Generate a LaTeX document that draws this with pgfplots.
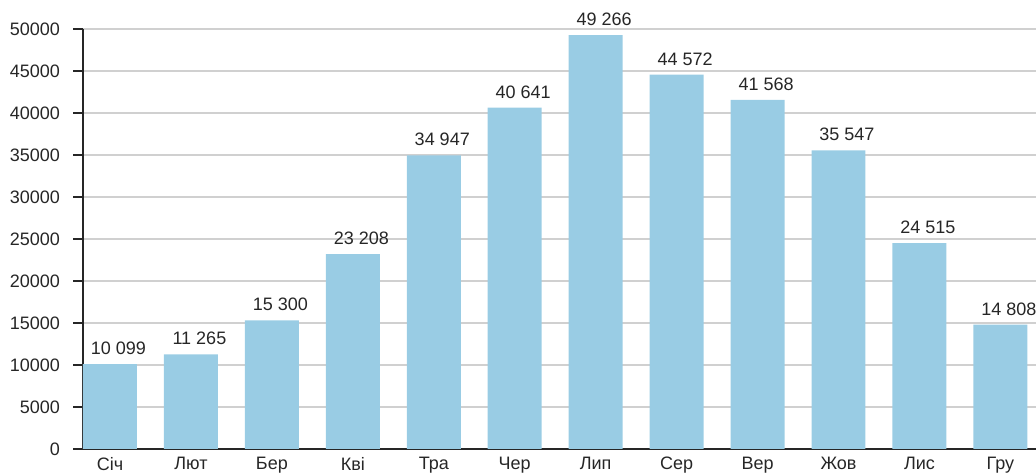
\documentclass[border=0pt]{standalone}
\usepackage{fontspec}
\setmainfont{Liberation Sans}
\usepackage{pgfplots}
\pgfplotsset{compat=1.18}
\definecolor{barblue}{RGB}{153,204,228}
\definecolor{gridgray}{RGB}{208,208,208}
\begin{document}
\begin{tikzpicture}
\begin{axis}[
  at={(41.5pt,12.5pt)}, anchor=south west,
  scale only axis, width=476.5pt, height=210pt,
  xmin=-0.3333, xmax=11.44, ymin=0, ymax=50000,
  axis x line*=bottom, axis y line*=left,
  axis line style={black!85, line width=0.9pt, -},
  ytick={0,5000,...,50000},
  xtick={0,...,11},
  xticklabels={Січ,Лют,Бер,Кві,Тра,Чер,Лип,Сер,Вер,Жов,Лис,Гру},
  x tick style={draw=none},
  y tick style={black!85, line width=0.9pt},
  tick align=outside, major tick length=5pt,
  ymajorgrids, grid style={gridgray, line width=0.7pt},
  /pgf/number format/assume math mode=true,
  /pgf/number format/1000 sep={},
  scaled y ticks=false,
  tick label style={font=\fontsize{9}{10}\selectfont, text=black!85},
  x tick label style={yshift=4.5pt},
  y tick label style={xshift=-3pt},
  ybar, bar width=0.6667, bar shift=0pt,
  nodes near coords={\pgfmathprintnumber[1000 sep={\ }]{\pgfplotspointmeta}},
  nodes near coords style={font=\fontsize{9}{10}\selectfont, text=black!85, anchor=south, inner sep=4.5pt, xshift=4.25pt},
  clip=false,
]
\addplot[fill=barblue, draw=none] coordinates {
  (0,10099) (1,11265) (2,15300) (3,23208) (4,34947) (5,40641)
  (6,49266) (7,44572) (8,41568) (9,35547) (10,24515) (11,14808)
};
\end{axis}
\pgfresetboundingbox
\useasboundingbox (0,0) rectangle (518pt,237pt);
\end{tikzpicture}
\end{document}
